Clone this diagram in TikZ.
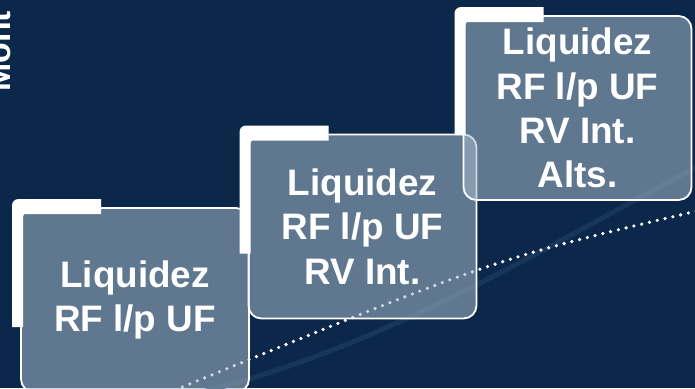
\documentclass[tikz,border=0pt]{standalone}
\usepackage{fontspec}
\setmainfont{Liberation Sans}

\definecolor{bgnavy}{HTML}{0B284B}
\definecolor{boxtint}{HTML}{A6B9C9}
\definecolor{swoosh}{HTML}{17365A}

\begin{document}
\begin{tikzpicture}[x=1bp,y=1bp]
\tikzstyle{every node}+=[inner sep=0pt]
\tikzstyle{stepbox}=[draw=white, line width=1.8bp, rounded corners=13bp,
  fill=boxtint, fill opacity=0.55, draw opacity=1, text opacity=1,
  minimum width=228bp, minimum height=184bp, text=white, align=center,
  font=\fontsize{37}{44.5}\selectfont\bfseries]
\tikzstyle{dotline}=[white, line width=3.6bp, line cap=round,
  dash pattern=on 0bp off 8bp]
\useasboundingbox (0,0) rectangle (695,-388);
\clip (0,0) rectangle (695,-388);
\fill [bgnavy] (0,0) rectangle (695,-388);
% faint swoosh and dotted trend line behind the boxes
\draw [swoosh, line width=5bp] (190,-395) .. controls (380,-350) and (540,-250) .. (700,-165);
\coordinate (dotstart) at (175,-390);
\coordinate (dotend) at (697,-211);
\draw [dotline] (dotstart) .. controls (494,-259) .. (dotend);
% side title, cut off at the edge
\node [rotate=90, anchor=base west, text=white, font=\fontsize{34}{34}\selectfont\bfseries] (title) at (10.5,-92) {Mont};
% the three steps
\node [stepbox] (liq1) at (135,-300) {Liquidez\\RF l/p UF};
\node [stepbox] (liq2) at (362.5,-226.5) {Liquidez\\RF l/p UF\\RV Int.};
\node [stepbox] (liq3) at (577.5,-108) {Liquidez\\RF l/p UF\\RV Int.\\Alts.};
\foreach \b in {liq1,liq2,liq3} {
  \fill [white] ([shift={(-8,-120)}]\b.north west) -- ([shift={(-8,2)}]\b.north west)
    arc (180:90:6) -- ([shift={(81,8)}]\b.north west) -- ([shift={(81,-7)}]\b.north west)
    -- ([shift={(3,-7)}]\b.north west) -- ([shift={(3,-120)}]\b.north west) -- cycle;
}
\end{tikzpicture}
\end{document}
